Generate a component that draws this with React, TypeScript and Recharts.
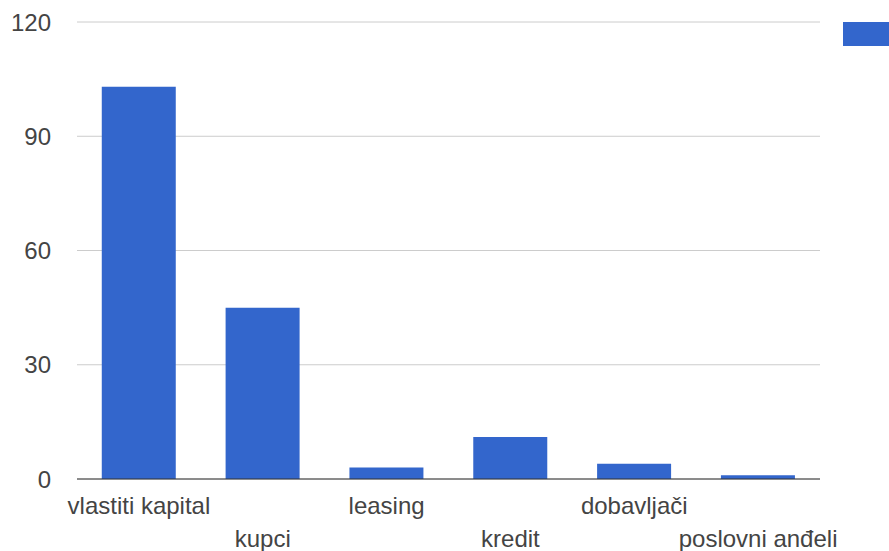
import React from "react";
import {
  BarChart,
  Bar,
  XAxis,
  YAxis,
  CartesianGrid,
  Legend,
} from "recharts";

const categories = [
  "vlastiti kapital",
  "kupci",
  "leasing",
  "kredit",
  "dobavljači",
  "poslovni anđeli",
];
const counts = [103, 45, 3, 11, 4, 1];
const yTicks = [0, 30, 60, 90, 120];
const seriesName = "Broj";

const chartData = categories.map((name, i) => ({ name, count: counts[i] }));

const FONT = "'Liberation Sans', Arial, sans-serif";

const StaggeredTick = (props: any) => {
  const { x, y, payload, index } = props;
  const rowOffset = index % 2 === 0 ? 27 : 60;
  return (
    <text
      x={x}
      y={y + rowOffset}
      textAnchor="middle"
      fill="#444"
      fontSize={24}
      fontFamily={FONT}
    >
      {payload.value}
    </text>
  );
};

// legend swatch only; the label runs off the right edge in the original
const LegendBox = () => (
  <div style={{ position: "relative", height: 0 }}>
    <div
      title={seriesName}
      style={{
        position: "absolute",
        left: 0,
        top: 0,
        width: 60,
        height: 24,
        background: "#3366cc",
      }}
    />
  </div>
);

export default function App() {
  return (
    <div
      style={{
        position: "absolute",
        left: 0,
        top: 0,
        width: 889,
        height: 551,
        overflow: "hidden",
        background: "#fff",
      }}
    >
      <BarChart
        width={889}
        height={551}
        data={chartData}
        margin={{ top: 22, right: 69, bottom: 0, left: 0 }}
        barCategoryGap="20%"
      >
        <CartesianGrid vertical={false} stroke="#cccccc" />
        <XAxis
          dataKey="name"
          height={72}
          axisLine={{ stroke: "#333" }}
          tickLine={false}
          interval={0}
          tick={<StaggeredTick />}
        />
        <YAxis
          width={77}
          domain={[0, 120]}
          ticks={yTicks}
          axisLine={false}
          tickLine={false}
          tickSize={0}
          tickMargin={26}
          tick={{ fill: "#444", fontSize: 24, fontFamily: FONT }}
        />
        <Legend
          verticalAlign="top"
          align="right"
          content={<LegendBox />}
          wrapperStyle={{ position: "absolute", left: 843, top: 22, width: 60, height: 0 }}
        />
        <Bar
          dataKey="count"
          name={seriesName}
          fill="#3366cc"
          isAnimationActive={false}
        />
      </BarChart>
    </div>
  );
}
